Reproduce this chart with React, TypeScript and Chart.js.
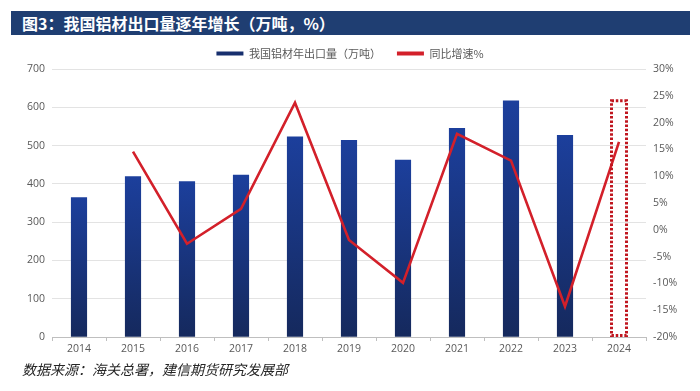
import React, { useEffect, useRef } from "react";
import { Chart, registerables } from "chart.js";

Chart.register(...registerables);

const years = ["2014", "2015", "2016", "2017", "2018", "2019", "2020", "2021", "2022", "2023", "2024"];
const exportVolume = [364, 419, 406, 423, 523, 514, 462, 545, 617, 527, null];
const yoyGrowth = [null, 14.6, -2.6, 3.9, 23.7, -1.9, -9.9, 17.9, 12.9, -14.3, 16.4];
const leftTicks = [0, 700, 100];
const rightTicks = [-20, 30, 5];
const highlightIndex = 10;
const highlightTop = 617;

const tickFont = { family: "'Open Sans', 'Noto Sans', sans-serif", size: 10.5 };
const tickColor = "#595959";

const highlightPlugin = {
  id: "highlightBox",
  afterDatasetsDraw(chart: any) {
    const x = chart.scales.x;
    const y = chart.scales.y;
    const cx = x.getPixelForValue(highlightIndex);
    const top = y.getPixelForValue(highlightTop);
    const bottom = y.getPixelForValue(0);
    const ctx = chart.ctx;
    ctx.save();
    ctx.strokeStyle = "#c0161f";
    ctx.lineWidth = 3;
    ctx.setLineDash([2.5, 1.8]);
    ctx.strokeRect(cx - 7.5, top, 15, bottom - top - 1.5);
    ctx.restore();
  },
};

export default function App() {
  const ref = useRef<HTMLCanvasElement | null>(null);

  useEffect(() => {
    const canvas = ref.current;
    if (!canvas) return;
    const chart = new Chart(canvas, {
      type: "bar",
      data: {
        labels: years,
        datasets: [
          {
            type: "bar",
            label: "我国铝材年出口量（万吨）",
            data: exportVolume,
            yAxisID: "y",
            order: 1,
            barThickness: 15.5,
            backgroundColor: (c: any) => {
              const ch = c.chart;
              const ys = ch.scales && ch.scales.y;
              if (!ys || c.type !== "data" || c.raw == null) return "#172f6e";
              const top = ys.getPixelForValue(c.raw);
              const bottom = ys.getPixelForValue(0);
              const g = ch.ctx.createLinearGradient(0, top, 0, bottom);
              g.addColorStop(0, "#1c3f9c");
              g.addColorStop(1, "#15295d");
              return g;
            },
            borderWidth: 0,
          } as any,
          {
            type: "line",
            label: "同比增速%",
            data: yoyGrowth,
            yAxisID: "y1",
            order: 0,
            borderColor: "#d3202a",
            backgroundColor: "#d3202a",
            borderWidth: 2.6,
            pointRadius: 0,
            tension: 0,
          } as any,
        ],
      },
      options: {
        animation: false,
        responsive: false,
        maintainAspectRatio: false,
        layout: { padding: { top: 0, left: 0, right: 0, bottom: 0 } },
        plugins: {
          tooltip: { enabled: false },
          legend: {
            position: "top",
            labels: {
              boxWidth: 27,
              boxHeight: 4,
              padding: 16,
              color: "#595959",
              font: { family: "'Noto Sans CJK SC', sans-serif", size: 11 },
              sort: (a: any, b: any) => a.datasetIndex - b.datasetIndex,
              generateLabels: (ch: any) =>
                ch.data.datasets.map((d: any, i: number) => ({
                  text: d.label,
                  fillStyle: i === 0 ? "#172f6e" : "#d3202a",
                  strokeStyle: i === 0 ? "#172f6e" : "#d3202a",
                  lineWidth: 0,
                  hidden: false,
                  datasetIndex: i,
                  fontColor: "#595959",
                })),
            },
          },
        },
        scales: {
          x: {
            offset: true,
            grid: { display: true, drawOnChartArea: false, drawTicks: true, tickLength: 4, color: "#bfbfbf", offset: true },
            border: { display: true, color: "#bfbfbf" },
            ticks: { color: tickColor, font: tickFont, padding: 2, maxRotation: 0 },
            afterFit: (s: any) => {
              s.height = 25;
            },
          },
          y: {
            position: "left",
            min: leftTicks[0],
            max: leftTicks[1],
            ticks: { stepSize: leftTicks[2], color: tickColor, font: tickFont, padding: 7 },
            grid: { color: "#e3e3e3", drawTicks: false },
            border: { display: false },
            afterFit: (s: any) => {
              s.width = 52;
            },
          },
          y1: {
            position: "right",
            min: rightTicks[0],
            max: rightTicks[1],
            ticks: {
              stepSize: rightTicks[2],
              color: tickColor,
              font: tickFont,
              padding: 7,
              callback: (v: any) => `${v}%`,
            },
            grid: { display: false, drawTicks: false },
            border: { display: false },
            afterFit: (s: any) => {
              s.width = 54;
            },
          },
        },
      } as any,
      plugins: [highlightPlugin],
    });
    return () => chart.destroy();
  }, []);

  return (
    <div style={{ position: "fixed", left: 0, top: 0, width: 700, height: 391, background: "#ffffff", overflow: "hidden" }}>
      <div
        style={{
          position: "absolute",
          left: 11,
          top: 11,
          width: 679,
          height: 24,
          background: "#1f3e72",
          color: "#ffffff",
          fontFamily: "'Noto Sans CJK SC', sans-serif",
          fontWeight: 700,
          fontSize: 16,
          lineHeight: "24px",
          paddingLeft: 11,
          boxSizing: "border-box",
          whiteSpace: "nowrap",
        }}
      >
        图3：我国铝材出口量逐年增长（万吨，%）
      </div>
      <canvas ref={ref} width={700} height={330} style={{ position: "absolute", left: 0, top: 32, width: 700, height: 330 }} />
      <div
        style={{
          position: "absolute",
          left: 22,
          top: 359,
          fontFamily: "'Noto Sans CJK SC', sans-serif",
          fontStyle: "italic",
          fontSize: 14,
          lineHeight: "20px",
          color: "#262626",
          whiteSpace: "nowrap",
        }}
      >
        数据来源：海关总署，建信期货研究发展部
      </div>
    </div>
  );
}
